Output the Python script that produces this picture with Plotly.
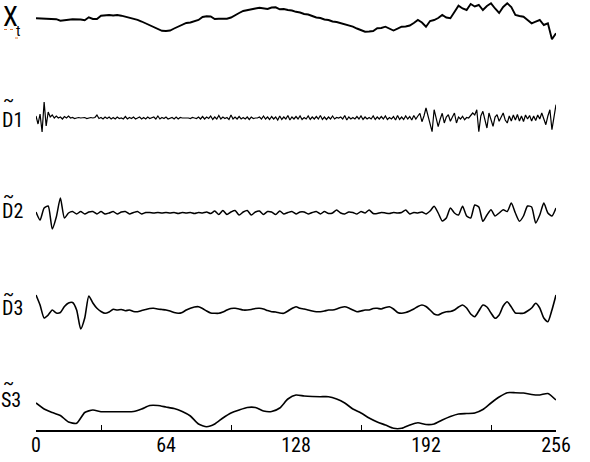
import numpy as np
import plotly.graph_objects as go

# ---------------- data ----------------
x_step2 = list(range(0, 257, 2))
x_step1 = list(range(0, 257))
x_step4 = list(range(0, 257, 4))

xt_vals = [
    21.7, 21.5, 21.7, 21.2, 21.0, 20.8, 19.3, 19.5, 20.2, 20.7,
    20.7, 20.5, 19.7, 22.7, 21.0, 21.0, 24.3, 24.7, 25.0, 24.5,
    25.0, 24.3, 23.3, 22.5, 21.7, 20.2, 18.5, 16.5, 15.0, 13.0,
    11.0, 9.2, 9.0, 9.5, 11.5, 13.5, 15.0, 17.0, 17.5, 19.0,
    20.0, 23.0, 23.7, 23.5, 21.0, 21.2, 21.5, 21.3, 22.5, 25.0,
    27.0, 29.0, 30.0, 31.0, 31.5, 32.2, 31.8, 31.0, 32.5, 32.7,
    30.7, 31.0, 30.0, 29.5, 28.2, 27.5, 26.0, 25.5, 24.0, 22.5,
    22.0, 20.5, 20.0, 18.5, 18.0, 17.0, 15.5, 15.0, 13.3, 11.5,
    9.5, 8.3, 8.5, 9.0, 11.7, 12.0, 13.3, 11.0, 9.5, 11.3,
    13.3, 13.5, 14.5, 17.0, 20.0, 17.5, 13.3, 19.0, 20.0, 22.0,
    25.0, 22.5, 21.7, 28.0, 34.3, 31.5, 30.0, 36.0, 33.5, 35.0,
    30.0, 34.0, 36.7, 31.5, 27.0, 33.0, 36.7, 33.0, 25.0, 24.0,
    23.3, 20.0, 16.7, 18.3, 20.0, 15.0, 16.7, 0.7, 6.7,
]

d1_vals = [
    2, -6, 4, -14, 16, -8, 6, 1, 3, 0,
    2, 0, 1, -1, 1.5, 0, 2, 0, 0.5, -0.5,
    0, 0.5, 0, 0, 0.5, -0.5, 0, 0.5, 0, 0.5,
    3, -0.5, 0.5, -1, 1, -0.5, 1, -1, 0.5, -1,
    1, -0.5, 0, -1, 1.5, -1, 0.5, -0.5, 1, -1,
    0, 1, -1, 0.5, -1, 1, -0.5, 0, 1, -1,
    2, -1, 0.5, -0.5, 1, -1, 0, 0.5, -1, 1,
    -1, 0.5, 0, 0, 0.5, 0, -0.5, 0.5, 0, -0.5,
    1, -1, 1.5, -1, 1, -0.5, 2, -1.5, 1, -1,
    2.5, -1, 1, -0.5, 0.5, -1.5, 3, -1, 1, -1,
    1.5, -1, 0.5, -1, 1, -1.5, 1, -0.5, 0, 0,
    1, -1, 2, -1, 1, -1.5, 1.5, -1, 1, -2,
    2, -1.5, 1, -1, 2.5, -2, 1, -1, 1.5, -1,
    2, -1.5, 0.5, -1, 2, -1.5, 1, -1, 1.5, -1,
    2.5, -1.5, 1, -1.5, 1, -1, 2, -1, 0.5, 0,
    1, -1, 2.5, -2, 1, -1, 0.5, -1, 1.5, -1,
    2, -1.5, 1, -1, 0.5, -1, 2, -1.5, 1, -1,
    1.5, -1, 2, -1.5, 0.5, -1, 1.5, -2, 2.5, -1.5,
    1, -1.5, 2, -1, 1.5, -2, 2.5, -1, 2, 4.7,
    -3.7, 2, 10, 1, -8, -13.7, 8.3, 0, -8.7, -1,
    4.7, -5, 1, 3.3, -3.3, 1, 5, -5, 1, -1,
    1.7, -1.7, 0.5, 0, 2, 5, 3, 8.3, -13.7, 2,
    6.7, -3, -10, 5, -2, -8.3, 1, 3.3, -3.3, 1,
    5, -2, -5, 2, -3, 3, -2, 3.5, -3, 2,
    -3.5, 3, -1, 2.5, -3, 2, -2.5, 3, -1, 5,
    -2, -6.7, 2, 8.3, -11.7, 0, 13.3,
]

d2_vals = [
    1, -7, 5, 7, -16, -4, 15, -5, 0, 1.5,
    -1, 1.5, -1, 1, 1.5, -1, 1.5, -1, 0, 1.5,
    -1, 1, 1.5, -1, 0.5, 1.5, -1, 0.5, 0.5, 0,
    0.5, 0, 0.5, 0, 0.5, -0.5, 0.5, 0, 0.5, -0.5,
    0.5, 0, 1, -0.5, 2, -1.5, 2.5, -1.5, 1, 2.5,
    -2, 1, 2.5, -2, 1, 2, -1.5, 1.5, 1, -1.5,
    2, -1, 0.5, 1.5, -1, 1, 1, -1, 0.5, 1.5,
    -1, 1.5, -0.5, 0, 3, 0, -1, 1, 0.5, -1,
    1.5, 0, 3, -0.5, -0.5, 0.5, 0, -0.5, 0.5, 0,
    0.5, 3, -1, 0.5, 0, 1, -1, 2, 6.7, 0,
    -8, -5, 5, 0, -2, 6.7, -3, -5, 8, 6,
    -8.3, -2, 3.3, -3, 0, 3.3, 1.5, 10, 0, -8.3,
    -3, 7, 6, -10, -2, 10, 0, -3, 5,
]

d3_vals = [
    15, 5, -8, -5, 0, -3, -2.5, 3.5, 7, 7.5,
    0, -19, -8, 14, 7, 1.7, -1.5, -3.3, -2, 0.7,
    0, 0.5, -0.7, 0, -1.5, -1.7, -0.5, 0.5, 1.5, 1.7,
    1, 0.5, 0, -1, -2.5, -3.3, -2.5, 0, 1.7, 3,
    3.3, 1.5, -1, -3, -3.3, -3.3, -2, 0, 1.5, 1.7,
    1, 0, 0, 0.5, 1.5, 1.7, 1, -0.5, -1.7, -2,
    -3, -3.3, -1, 1.5, 3.3, 1.7, 1, 0, -1, -1.7,
    -1.7, -1, 0, 0, 1, 2.5, 3.3, 2, 0, -1.7,
    -1, 0, 0, 1.5, 1.7, 1, 2.5, 3.3, 1, -2.5,
    -3.3, -2.5, -1, 1, 3.5, 5, 3.5, 0, -4, -5,
    -3, -1.7, -1.5, 0, 3, 5, 2, -4, -6.7, -1,
    5, 3, -3, -8.3, -5, 4, 8.3, 3, -3, -3.3,
    -3.3, -1, 2, 6.7, 2, -8, -11.7, 0, 15,
]

s3_vals = [
    7, 1, -2.5, -5.5, -12, -13.3, -2.5, 0, -1.7, -1.7,
    -1.7, -1.7, -1.5, 1, 4.5, 4.5, 3, 1.5, -1.5, -6,
    -14, -16.7, -14, -8, -3, 0, 2.5, 2.5, -1, -1.5,
    2, 11, 15, 14, 13.5, 13.3, 13.3, 11, 7, 1,
    -3, -8, -12, -15, -18.3, -18.3, -15, -12.7, -14.5, -14,
    -10, -6.5, -4, -3.5, -3, 0.5, 7, 13, 17.3, 17.3,
    17, 15.5, 15, 16.5, 10,
]

tick_vals = [0, 64, 128, 192, 256]
tick_text = ["0", "64", "128", "192", "256"]
minor_vals = [32, 96, 160, 224]
series_labels = ["D1", "D2", "D3", "S3"]

# ---------------- layout helpers ----------------
W, H = 590, 462
ML, MR, MT, MB = 36, 34, 0, 32
PW, PH = W - ML - MR, H - MT - MB
FONT = ("Roboto Condensed, Liberation Sans Narrow, Arial Narrow, "
        "DejaVu Sans Condensed, Liberation Sans, Arial, sans-serif")


def fy(y):
    return (PH - (y - MT)) / PH


def fx(x):
    return (x - ML) / PW


series = [
    # (x, values, (top_px, bottom_px, base_px), width, shape)
    (x_step2, xt_vals, (0, 45, 40), 1.9, "linear"),
    (x_step1, d1_vals, (95, 145, 118), 1.2, "linear"),
    (x_step2, d2_vals, (188, 240, 213), 1.5, "spline"),
    (x_step2, d3_vals, (285, 335, 310), 1.6, "spline"),
    (x_step4, s3_vals, (375, 430, 410), 1.6, "spline"),
]

fig = go.Figure()
layout = dict(
    width=W, height=H,
    margin=dict(l=ML, r=MR, t=MT, b=MB, pad=0),
    paper_bgcolor="white", plot_bgcolor="white",
    showlegend=False,
    font=dict(family=FONT, color="black"),
)

for k, (xs, vs, (top, bot, base), lw, shape) in enumerate(series, start=1):
    assert len(xs) == len(vs), (k, len(xs), len(vs))
    yname = "y" if k == 1 else f"y{k}"
    fig.add_trace(go.Scatter(
        x=xs, y=vs, mode="lines", xaxis="x", yaxis=yname,
        line=dict(color="black", width=lw, shape=shape, smoothing=0.6),
        hoverinfo="skip",
    ))
    layout["yaxis" if k == 1 else f"yaxis{k}"] = dict(
        domain=[fy(bot), fy(top)], range=[base - bot, base - top],
        visible=False, showgrid=False, zeroline=False, anchor="x",
        fixedrange=True,
    )

layout["xaxis"] = dict(
    range=[0, 256], anchor="y5", showgrid=False, zeroline=False,
    showline=True, linecolor="black", linewidth=1.5,
    tickmode="array", tickvals=tick_vals, ticktext=tick_text,
    ticks="", ticklabelstandoff=-4,
    tickfont=dict(family=FONT, size=20, color="black"),
    minor=dict(tickmode="array", tickvals=minor_vals, ticks="inside",
               ticklen=5, tickwidth=1, tickcolor="black", showgrid=False),
    fixedrange=True,
)
fig.update_layout(**layout)

ann_font = dict(family=FONT, color="black")
label_pos = [(12, 120, 100), (12, 211, 196), (12, 308, 293), (11, 400, 382)]
for txt, (cx, cy, ty) in zip(series_labels, label_pos):
    fig.add_annotation(text=txt, x=fx(cx), y=fy(cy), xref="paper", yref="paper",
                       showarrow=False, xanchor="center", yanchor="middle",
                       font=dict(size=20, **ann_font))
    fig.add_annotation(text="~", x=fx(8), y=fy(ty), xref="paper", yref="paper",
                       showarrow=False, xanchor="center", yanchor="middle",
                       font=dict(size=19, **ann_font))

fig.add_annotation(text="X", x=fx(10), y=fy(17.5), xref="paper", yref="paper",
                   showarrow=False, xanchor="center", yanchor="middle",
                   font=dict(size=27, **ann_font))
fig.add_annotation(text="t", x=fx(17.5), y=fy(31), xref="paper", yref="paper",
                   showarrow=False, xanchor="center", yanchor="middle",
                   font=dict(size=15, **ann_font))

# spell-check style squiggles under the X_t label
for x0, x1, yy in [(4, 16, 29.5), (15, 20, 38)]:
    fig.add_shape(type="line", xref="paper", yref="paper",
                  x0=fx(x0), x1=fx(x1), y0=fy(yy), y1=fy(yy),
                  line=dict(color="#e07b39", width=1, dash="dot"))

fig.write_html(
    "out.html",
    config={"displayModeBar": False, "staticPlot": True},
    post_script="document.body.style.margin='0';document.body.style.padding='0';",
)
